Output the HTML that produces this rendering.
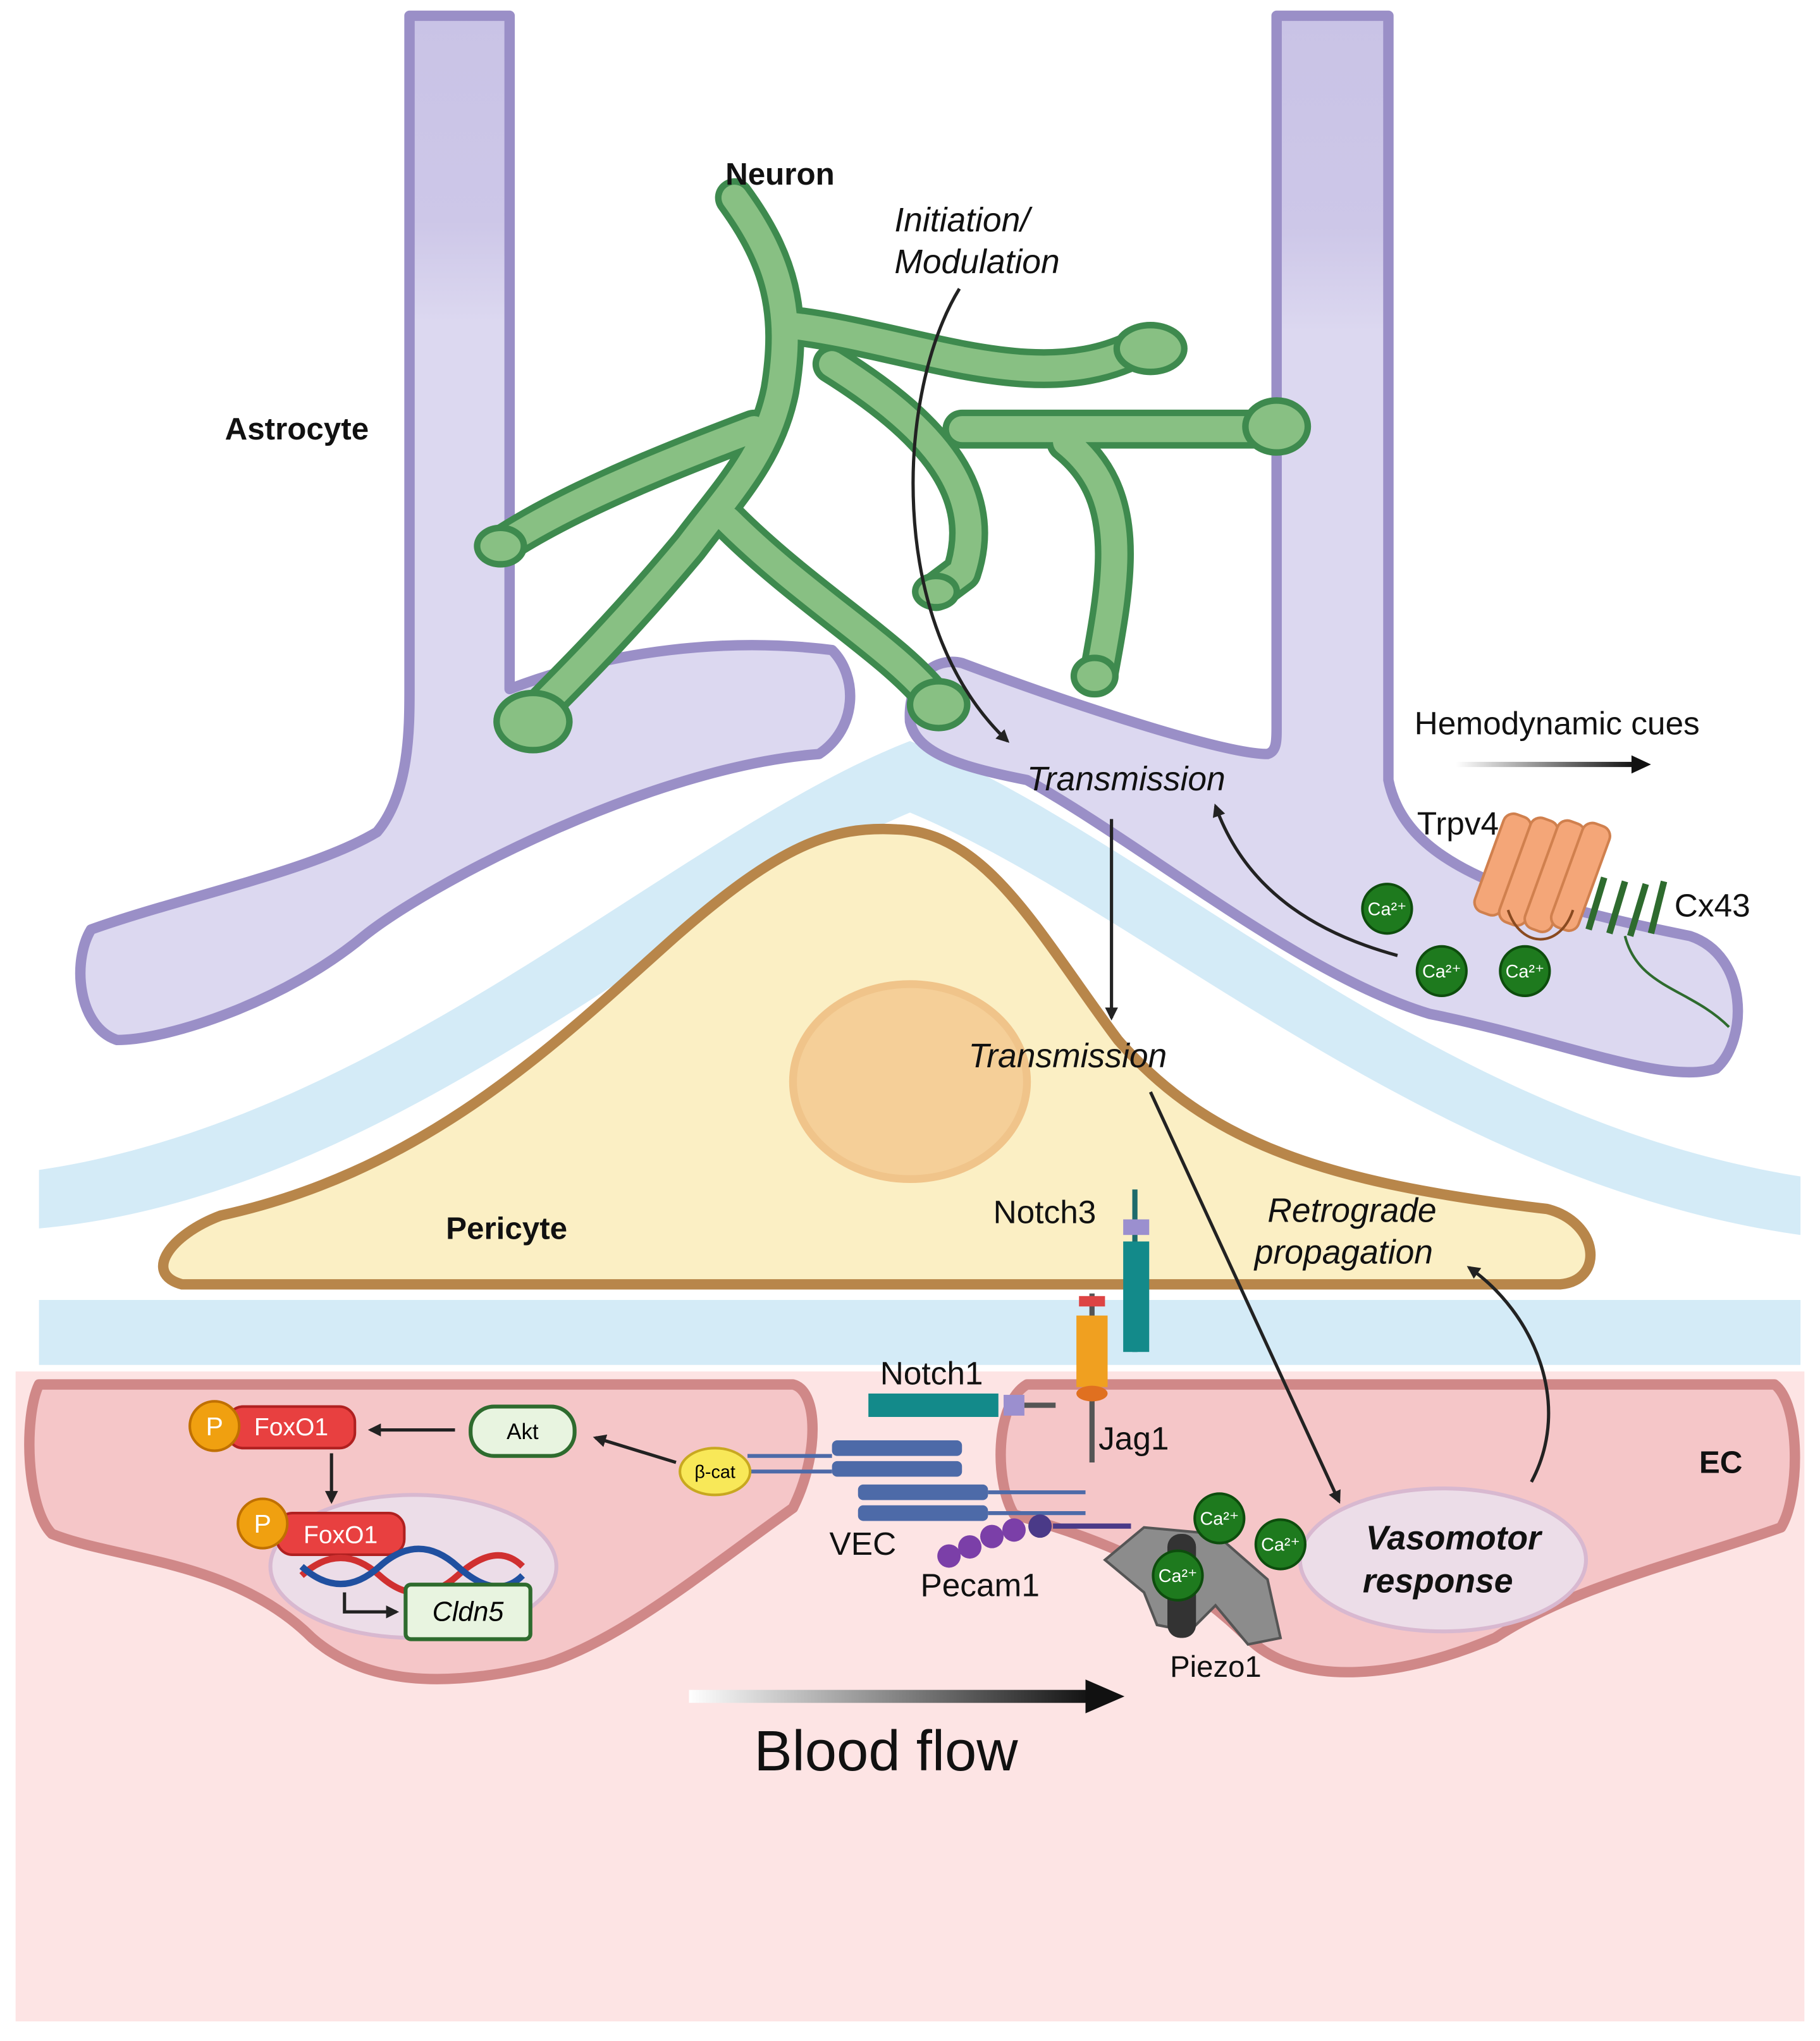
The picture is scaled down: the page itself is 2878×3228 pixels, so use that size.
<!DOCTYPE html>
<html><head><meta charset="utf-8"><style>html,body{margin:0;padding:0;background:#fff}svg{display:block}</style></head>
<body>
<svg xmlns="http://www.w3.org/2000/svg" width="2878" height="3228" viewBox="0 0 1400 1570" font-family="Liberation Sans, sans-serif">
<defs>
<marker id="ah" markerWidth="10" markerHeight="10" refX="8" refY="5" orient="auto" markerUnits="userSpaceOnUse"><path d="M0,0 L10,5 L0,10 z" fill="#222"/></marker>
<linearGradient id="bf" x1="0" x2="1"><stop offset="0" stop-color="#fff"/><stop offset="1" stop-color="#111"/></linearGradient>
<linearGradient id="hc" x1="0" x2="1"><stop offset="0" stop-color="#fff"/><stop offset="1" stop-color="#111"/></linearGradient>
<linearGradient id="ast" x1="0" y1="0" x2="0" y2="1"><stop offset="0" stop-color="#c9c3e6"/><stop offset="0.2" stop-color="#cdc7e8"/><stop offset="0.3" stop-color="#dcd8f0"/><stop offset="1" stop-color="#dcd8f0"/></linearGradient>
</defs>
<rect width="1400" height="1570" fill="#fff"/>
<rect x="12" y="1055" width="1376" height="500" fill="#fde4e4"/>
<path d="M30,900 C300,860 520,640 700,570 C880,640 1100,860 1385,905 L1385,950 C1100,910 880,700 700,625 C520,700 300,920 30,945 z" fill="#d4ebf7"/>
<rect x="30" y="1000" width="1355" height="50" fill="#d4ebf7"/>
<path d="M315,12 L392,12 L392,530 C470,500 560,490 640,500 C660,520 660,560 630,580 C500,590 330,680 280,720 C220,770 130,800 90,800 C60,790 55,740 70,715 C140,690 240,670 290,640 C315,610 315,560 315,530 z" fill="url(#ast)" stroke="#9a8fc7" stroke-width="8" stroke-linejoin="round"/>
<path d="M982,12 L1068,12 L1068,600 C1080,660 1150,690 1300,720 C1345,735 1345,800 1320,822 C1280,835 1200,800 1100,780 C1000,750 880,650 790,600 C740,590 705,580 700,555 C698,520 720,505 740,510 C820,540 940,580 975,580 C982,578 982,570 982,560 z" fill="url(#ast)" stroke="#9a8fc7" stroke-width="8" stroke-linejoin="round"/>
<path d="M140,988 C110,980 130,950 170,935 C330,900 430,800 520,720 C600,650 640,635 690,638 C760,640 800,720 860,800 C930,880 1020,910 1190,930 C1230,940 1235,985 1200,988 z" fill="#fbefc4" stroke="#b8864a" stroke-width="8" stroke-linejoin="round"/>
<ellipse cx="700" cy="832" rx="90" ry="75" fill="#f5cf98" stroke="#f0c48a" stroke-width="6"/>
<path d="M30,1065 L610,1065 C630,1070 630,1120 610,1160 C540,1210 480,1260 420,1280 C340,1300 280,1295 240,1260 C180,1200 90,1200 40,1180 C20,1160 18,1090 30,1065 z" fill="#f5c6c8" stroke="#d08888" stroke-width="8" stroke-linejoin="round"/>
<path d="M790,1065 L1365,1065 C1385,1080 1385,1150 1370,1175 C1300,1200 1210,1220 1150,1260 C1080,1290 1000,1300 960,1260 C900,1200 830,1180 780,1165 C765,1140 765,1080 790,1065 z" fill="#f5c6c8" stroke="#d08888" stroke-width="8" stroke-linejoin="round"/>
<ellipse cx="318" cy="1205" rx="110" ry="55" fill="#ecdde8" stroke="#d8b8d0" stroke-width="3"/>
<ellipse cx="1110" cy="1200" rx="110" ry="55" fill="#ecdde8" stroke="#d8b8d0" stroke-width="3"/>
<g fill="none" stroke-linecap="round" stroke-linejoin="round">
<g stroke="#3e8a4e" stroke-width="30">
<path d="M565,152 C600,200 610,240 600,300 C590,350 560,380 530,420 C480,480 440,520 410,550"/>
<path d="M580,330 C500,360 430,390 385,420"/>
<path d="M605,250 C700,260 800,310 880,265"/>
<path d="M640,280 C720,330 760,380 740,440 L720,455"/>
<path d="M560,400 C620,460 690,500 720,540"/>
<path d="M740,330 C820,330 900,330 985,330"/>
<path d="M820,340 C870,380 860,440 845,520"/>
</g>
<g stroke="#88c083" stroke-width="20">
<path d="M565,152 C600,200 610,240 600,300 C590,350 560,380 530,420 C480,480 440,520 410,550"/>
<path d="M580,330 C500,360 430,390 385,420"/>
<path d="M605,250 C700,260 800,310 880,265"/>
<path d="M640,280 C720,330 760,380 740,440 L720,455"/>
<path d="M560,400 C620,460 690,500 720,540"/>
<path d="M740,330 C820,330 900,330 985,330"/>
<path d="M820,340 C870,380 860,440 845,520"/>
</g>
</g>
<g fill="#88c083" stroke="#3e8a4e" stroke-width="5">
<ellipse cx="410" cy="555" rx="28" ry="22"/><ellipse cx="385" cy="420" rx="18" ry="14"/>
<ellipse cx="885" cy="268" rx="26" ry="18"/><ellipse cx="982" cy="328" rx="24" ry="20"/>
<ellipse cx="722" cy="542" rx="22" ry="18"/><ellipse cx="842" cy="520" rx="16" ry="14"/><ellipse cx="720" cy="455" rx="16" ry="12"/>
</g>
<g fill="none" stroke="#222" stroke-width="2.5" marker-end="url(#ah)">
<path d="M738,222 C690,300 680,480 775,570"/>
<path d="M855,630 L855,783"/>
<path d="M1075,735 C1020,720 960,690 935,620"/>
<path d="M885,840 L1030,1155"/>
<path d="M1178,1140 C1210,1080 1180,1010 1130,975"/>
<path d="M350,1100 L285,1100"/>
<path d="M520,1125 L458,1106"/>
<path d="M255,1118 L255,1155"/>
<path d="M265,1225 L265,1240 L305,1240"/>
</g>
<rect x="1120" y="586" width="138" height="4" fill="url(#hc)"/>
<path d="M1255,581 L1270,588 L1255,595 z" fill="#111"/>
<rect x="530" y="1300" width="310" height="10" fill="url(#bf)"/>
<path d="M835,1292 L865,1305 L835,1318 z" fill="#111"/>
<g fill="#f4a678" stroke="#d0804e" stroke-width="2">
<rect x="1145" y="625" width="22" height="80" rx="8" transform="rotate(20 1156 665)"/>
<rect x="1165" y="628" width="22" height="85" rx="8" transform="rotate(20 1176 670)"/>
<rect x="1185" y="630" width="22" height="88" rx="8" transform="rotate(20 1196 674)"/>
<rect x="1205" y="632" width="22" height="85" rx="8" transform="rotate(20 1216 674)"/>
</g>
<path d="M1160,700 C1170,730 1200,730 1210,700" fill="none" stroke="#8a4a20" stroke-width="2"/>
<g fill="none" stroke="#2e6b2e" stroke-width="5"><path d="M1222,715 l12,-40 M1238,718 l12,-40 M1254,720 l12,-40 M1270,718 l10,-40"/></g>
<path d="M1250,720 C1260,760 1300,760 1330,790" fill="none" stroke="#2e6b2e" stroke-width="2"/>
<line x1="873" y1="915" x2="873" y2="1040" stroke="#1d6b6b" stroke-width="4"/>
<rect x="864" y="955" width="20" height="85" fill="#138a8a"/>
<rect x="864" y="938" width="20" height="12" fill="#9b8fcf"/>
<line x1="840" y1="995" x2="840" y2="1125" stroke="#555" stroke-width="4"/>
<rect x="830" y="997" width="20" height="8" fill="#d44"/>
<rect x="828" y="1012" width="24" height="55" fill="#f0a020"/>
<ellipse cx="840" cy="1072" rx="12" ry="6" fill="#e07020"/>
<rect x="668" y="1072" width="100" height="18" fill="#138a8a"/>
<rect x="772" y="1073" width="16" height="16" fill="#9b8fcf"/>
<line x1="788" y1="1081" x2="812" y2="1081" stroke="#555" stroke-width="4"/>
<g fill="#4d6aa8">
<rect x="640" y="1108" width="100" height="12" rx="4"/><rect x="640" y="1124" width="100" height="12" rx="4"/>
<rect x="660" y="1142" width="100" height="12" rx="4"/><rect x="660" y="1158" width="100" height="12" rx="4"/>
</g>
<g stroke="#4d6aa8" stroke-width="3"><line x1="575" y1="1120" x2="640" y2="1120"/><line x1="575" y1="1132" x2="640" y2="1132"/><line x1="760" y1="1148" x2="835" y2="1148"/><line x1="760" y1="1164" x2="835" y2="1164"/></g>
<g fill="#7b3fa8"><circle cx="730" cy="1197" r="9"/><circle cx="746" cy="1190" r="9"/><circle cx="763" cy="1182" r="9"/><circle cx="780" cy="1177" r="9"/><circle cx="800" cy="1174" r="9" fill="#4a3a88"/></g>
<line x1="810" y1="1174" x2="870" y2="1174" stroke="#4a3a88" stroke-width="4"/>
<path d="M850,1200 L880,1175 L935,1180 L975,1215 L985,1260 L960,1265 L935,1235 L915,1255 L890,1250 L880,1225 z" fill="#8c8c8c" stroke="#555" stroke-width="2"/>
<rect x="898" y="1180" width="22" height="80" rx="10" fill="#333"/>
<g fill="#1e7a1e" stroke="#0d4d0d" stroke-width="2">
<circle cx="1067" cy="699" r="19"/><circle cx="1109" cy="747" r="19"/><circle cx="1173" cy="747" r="19"/>
<circle cx="938" cy="1168" r="19"/><circle cx="985" cy="1188" r="19"/><circle cx="906" cy="1212" r="19"/>
</g>
<g fill="#fff" font-size="14" text-anchor="middle">
<text x="1067" y="704">Ca²⁺</text><text x="1109" y="752">Ca²⁺</text><text x="1173" y="752">Ca²⁺</text>
<text x="938" y="1173">Ca²⁺</text><text x="985" y="1193">Ca²⁺</text><text x="906" y="1217">Ca²⁺</text>
</g>
<ellipse cx="550" cy="1132" rx="27" ry="18" fill="#f8e858" stroke="#c8a820" stroke-width="2"/>
<text x="550" y="1137" font-size="14" text-anchor="middle">β-cat</text>
<rect x="362" y="1082" width="80" height="38" rx="18" fill="#e8f4e0" stroke="#2e6b2e" stroke-width="3"/>
<text x="402" y="1107" font-size="17" text-anchor="middle">Akt</text>
<rect x="175" y="1082" width="98" height="32" rx="12" fill="#e84040" stroke="#b02020" stroke-width="2"/>
<text x="224" y="1104" font-size="19" fill="#fff" text-anchor="middle">FoxO1</text>
<circle cx="165" cy="1097" r="19" fill="#f0a010" stroke="#c07000" stroke-width="2"/><text x="165" y="1104" font-size="20" fill="#fff" text-anchor="middle">P</text>
<rect x="213" y="1164" width="98" height="32" rx="12" fill="#e84040" stroke="#b02020" stroke-width="2"/>
<text x="262" y="1187" font-size="19" fill="#fff" text-anchor="middle">FoxO1</text>
<circle cx="202" cy="1172" r="19" fill="#f0a010" stroke="#c07000" stroke-width="2"/><text x="202" y="1179" font-size="20" fill="#fff" text-anchor="middle">P</text>
<path d="M232,1212 Q262,1185 292,1212 T352,1212 T402,1205" fill="none" stroke="#d03030" stroke-width="5"/>
<path d="M232,1205 Q262,1232 292,1205 T352,1205 T402,1212" fill="none" stroke="#2050a0" stroke-width="5"/>
<rect x="312" y="1219" width="96" height="42" rx="4" fill="#e8f4e0" stroke="#2e6b2e" stroke-width="3"/>
<text x="360" y="1247" font-size="21" font-style="italic" text-anchor="middle">Cldn5</text>
<g font-size="24" fill="#111">
<text x="558" y="142" font-weight="bold">Neuron</text>
<text x="173" y="338" font-weight="bold">Astrocyte</text>
<text x="343" y="953" font-weight="bold">Pericyte</text>
<text x="1307" y="1133" font-weight="bold">EC</text>
<text x="688" y="178" font-style="italic" font-size="26">Initiation/</text>
<text x="688" y="210" font-style="italic" font-size="26">Modulation</text>
<text x="790" y="608" font-style="italic" font-size="26">Transmission</text>
<text x="745" y="821" font-style="italic" font-size="26">Transmission</text>
<text x="975" y="940" font-style="italic" font-size="26">Retrograde</text>
<text x="965" y="972" font-style="italic" font-size="26">propagation</text>
<text x="1088" y="565" font-size="25">Hemodynamic cues</text>
<text x="1090" y="642" font-size="25">Trpv4</text>
<text x="1288" y="705" font-size="25">Cx43</text>
<text x="764" y="941" font-size="25">Notch3</text>
<text x="677" y="1065" font-size="25">Notch1</text>
<text x="845" y="1115" font-size="25">Jag1</text>
<text x="638" y="1196" font-size="25">VEC</text>
<text x="708" y="1228" font-size="25">Pecam1</text>
<text x="900" y="1290" font-size="23">Piezo1</text>
<text x="1118" y="1192" font-size="26" font-weight="bold" font-style="italic" text-anchor="middle">Vasomotor</text>
<text x="1106" y="1225" font-size="26" font-weight="bold" font-style="italic" text-anchor="middle">response</text>
<text x="580" y="1362" font-size="44">Blood flow</text>
</g>
</svg>
</body></html>
